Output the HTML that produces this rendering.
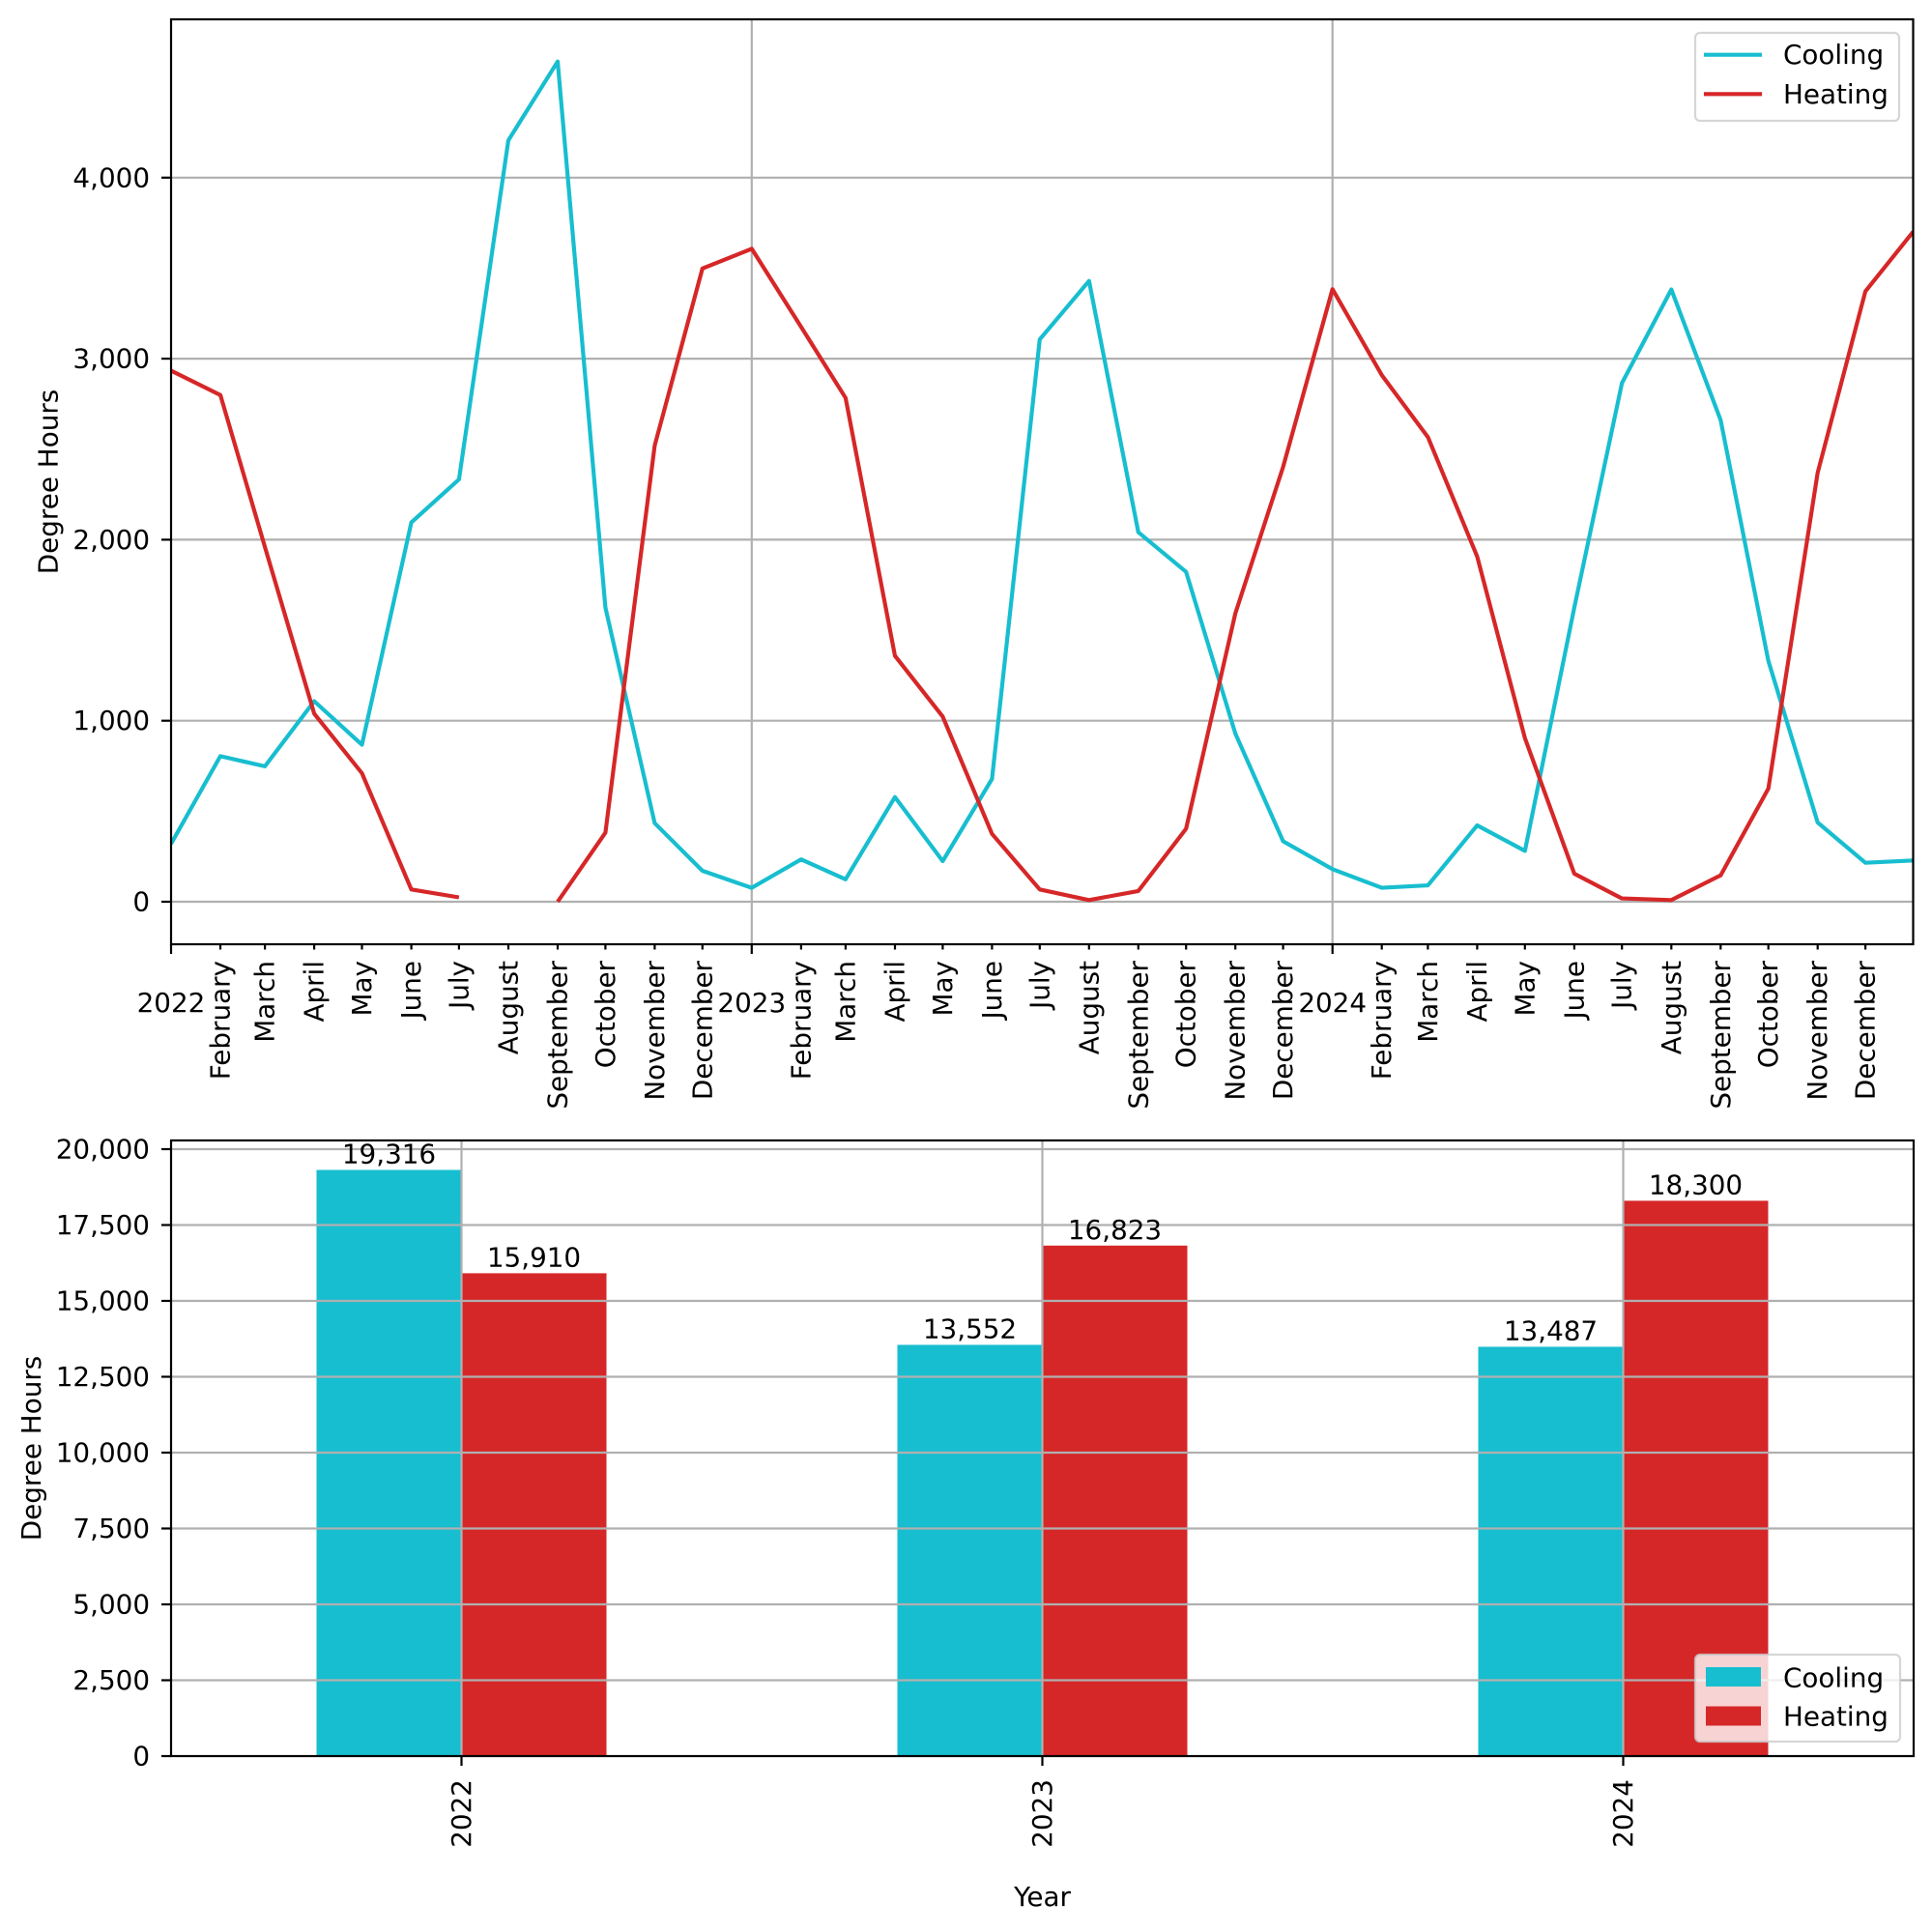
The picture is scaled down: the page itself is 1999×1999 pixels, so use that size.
<!DOCTYPE html>
<html>
<head>
<meta charset="utf-8">
<style>
html,body{margin:0;padding:0;background:#fff;}
svg{display:block;}
text{font-family:"DejaVu Sans","Liberation Sans",sans-serif;font-size:27.8px;fill:#000;}
</style>
</head>
<body>
<svg width="1999" height="1999" viewBox="0 0 1999 1999" xmlns="http://www.w3.org/2000/svg">
<rect x="0" y="0" width="1999" height="1999" fill="#fff"/>
<defs>
<clipPath id="c1"><rect x="177" y="20" width="1802.5" height="957"/></clipPath>
</defs>

<!-- ===== TOP CHART ===== -->
<g stroke="#b0b0b0" stroke-width="2.2" fill="none">
<line x1="177" y1="933" x2="1979.5" y2="933"/>
<line x1="177" y1="745.7" x2="1979.5" y2="745.7"/>
<line x1="177" y1="558.4" x2="1979.5" y2="558.4"/>
<line x1="177" y1="371.1" x2="1979.5" y2="371.1"/>
<line x1="177" y1="183.8" x2="1979.5" y2="183.8"/>
<line x1="777.8" y1="20" x2="777.8" y2="977"/>
<line x1="1378.7" y1="20" x2="1378.7" y2="977"/>
</g>
<g clip-path="url(#c1)" fill="none" stroke-width="4.17" stroke-linejoin="round">
<polyline stroke="#17becf" points="177.0,873.1 228.0,782.4 274.1,792.9 325.1,725.5 374.5,770.6 425.6,540.6 474.9,496.0 526.0,145.2 577.0,63.7 626.4,628.6 677.4,851.7 726.8,901.0 777.8,918.6 828.9,889.2 874.9,909.8 926.0,824.7 975.4,891.0 1026.4,806.0 1075.8,351.2 1126.8,290.7 1177.8,550.7 1227.2,591.7 1278.2,759.0 1327.6,870.4 1378.7,899.3 1429.7,918.6 1477.4,916.1 1528.4,854.0 1577.8,880.4 1628.9,628.6 1678.2,396.4 1729.3,299.5 1780.3,434.6 1829.7,683.9 1880.7,851.0 1930.1,892.7 1979.5,890.3"/>
<polyline stroke="#d62728" points="177.0,383.5 228.0,408.7 274.1,565.9 325.1,738.4 374.5,800.0 425.6,920.3 474.9,928.5"/>
<polyline stroke="#d62728" points="577.0,933.0 626.4,861.6 677.4,461.0 726.8,277.8 777.8,257.4 828.9,338.3 874.9,411.7 926.0,678.6 975.4,741.4 1026.4,862.8 1075.8,920.3 1126.8,931.3 1177.8,921.9 1227.2,857.5 1278.2,634.6 1327.6,483.1 1378.7,299.2 1429.7,388.1 1477.4,452.2 1528.4,575.8 1577.8,763.7 1628.9,904.0 1678.2,929.6 1729.3,931.3 1780.3,905.7 1829.7,815.9 1880.7,489.1 1930.1,301.4 1979.5,239.8"/>
</g>
<rect x="177" y="20" width="1802.5" height="957" fill="none" stroke="#000" stroke-width="2.2"/>
<g stroke="#000" stroke-width="2.2">
<line x1="167" y1="933" x2="177" y2="933"/>
<line x1="167" y1="745.7" x2="177" y2="745.7"/>
<line x1="167" y1="558.4" x2="177" y2="558.4"/>
<line x1="167" y1="371.1" x2="177" y2="371.1"/>
<line x1="167" y1="183.8" x2="177" y2="183.8"/>
</g>
<g text-anchor="end">
<text x="155" y="942.5">0</text>
<text x="155" y="755.2">1,000</text>
<text x="155" y="567.9">2,000</text>
<text x="155" y="380.6">3,000</text>
<text x="155" y="193.3">4,000</text>
</g>
<text transform="translate(50,498.5) rotate(-90)" text-anchor="middle" dominant-baseline="central">Degree Hours</text>
<g stroke="#000" stroke-width="2.2">
<line x1="177" y1="977" x2="177" y2="987"/>
<line x1="777.8" y1="977" x2="777.8" y2="987"/>
<line x1="1378.7" y1="977" x2="1378.7" y2="987"/>
<line x1="228.0" y1="977" x2="228.0" y2="982.5"/>
<line x1="274.1" y1="977" x2="274.1" y2="982.5"/>
<line x1="325.1" y1="977" x2="325.1" y2="982.5"/>
<line x1="374.5" y1="977" x2="374.5" y2="982.5"/>
<line x1="425.6" y1="977" x2="425.6" y2="982.5"/>
<line x1="474.9" y1="977" x2="474.9" y2="982.5"/>
<line x1="526.0" y1="977" x2="526.0" y2="982.5"/>
<line x1="577.0" y1="977" x2="577.0" y2="982.5"/>
<line x1="626.4" y1="977" x2="626.4" y2="982.5"/>
<line x1="677.4" y1="977" x2="677.4" y2="982.5"/>
<line x1="726.8" y1="977" x2="726.8" y2="982.5"/>
<line x1="828.9" y1="977" x2="828.9" y2="982.5"/>
<line x1="874.9" y1="977" x2="874.9" y2="982.5"/>
<line x1="926.0" y1="977" x2="926.0" y2="982.5"/>
<line x1="975.4" y1="977" x2="975.4" y2="982.5"/>
<line x1="1026.4" y1="977" x2="1026.4" y2="982.5"/>
<line x1="1075.8" y1="977" x2="1075.8" y2="982.5"/>
<line x1="1126.8" y1="977" x2="1126.8" y2="982.5"/>
<line x1="1177.8" y1="977" x2="1177.8" y2="982.5"/>
<line x1="1227.2" y1="977" x2="1227.2" y2="982.5"/>
<line x1="1278.2" y1="977" x2="1278.2" y2="982.5"/>
<line x1="1327.6" y1="977" x2="1327.6" y2="982.5"/>
<line x1="1429.7" y1="977" x2="1429.7" y2="982.5"/>
<line x1="1477.4" y1="977" x2="1477.4" y2="982.5"/>
<line x1="1528.4" y1="977" x2="1528.4" y2="982.5"/>
<line x1="1577.8" y1="977" x2="1577.8" y2="982.5"/>
<line x1="1628.9" y1="977" x2="1628.9" y2="982.5"/>
<line x1="1678.2" y1="977" x2="1678.2" y2="982.5"/>
<line x1="1729.3" y1="977" x2="1729.3" y2="982.5"/>
<line x1="1780.3" y1="977" x2="1780.3" y2="982.5"/>
<line x1="1829.7" y1="977" x2="1829.7" y2="982.5"/>
<line x1="1880.7" y1="977" x2="1880.7" y2="982.5"/>
<line x1="1930.1" y1="977" x2="1930.1" y2="982.5"/>
</g>
<g text-anchor="middle">
<text x="177" y="1047">2022</text>
<text x="777.8" y="1047">2023</text>
<text x="1378.7" y="1047">2024</text>
</g>
<g text-anchor="end">
<text transform="translate(237.5,994) rotate(-90)">February</text>
<text transform="translate(283.6,994) rotate(-90)">March</text>
<text transform="translate(334.6,994) rotate(-90)">April</text>
<text transform="translate(384.0,994) rotate(-90)">May</text>
<text transform="translate(435.1,994) rotate(-90)">June</text>
<text transform="translate(484.4,994) rotate(-90)">July</text>
<text transform="translate(535.5,994) rotate(-90)">August</text>
<text transform="translate(586.5,994) rotate(-90)">September</text>
<text transform="translate(635.9,994) rotate(-90)">October</text>
<text transform="translate(686.9,994) rotate(-90)">November</text>
<text transform="translate(736.3,994) rotate(-90)">December</text>
<text transform="translate(838.4,994) rotate(-90)">February</text>
<text transform="translate(884.4,994) rotate(-90)">March</text>
<text transform="translate(935.5,994) rotate(-90)">April</text>
<text transform="translate(984.9,994) rotate(-90)">May</text>
<text transform="translate(1035.9,994) rotate(-90)">June</text>
<text transform="translate(1085.3,994) rotate(-90)">July</text>
<text transform="translate(1136.3,994) rotate(-90)">August</text>
<text transform="translate(1187.3,994) rotate(-90)">September</text>
<text transform="translate(1236.7,994) rotate(-90)">October</text>
<text transform="translate(1287.7,994) rotate(-90)">November</text>
<text transform="translate(1337.1,994) rotate(-90)">December</text>
<text transform="translate(1439.2,994) rotate(-90)">February</text>
<text transform="translate(1486.9,994) rotate(-90)">March</text>
<text transform="translate(1537.9,994) rotate(-90)">April</text>
<text transform="translate(1587.3,994) rotate(-90)">May</text>
<text transform="translate(1638.4,994) rotate(-90)">June</text>
<text transform="translate(1687.7,994) rotate(-90)">July</text>
<text transform="translate(1738.8,994) rotate(-90)">August</text>
<text transform="translate(1789.8,994) rotate(-90)">September</text>
<text transform="translate(1839.2,994) rotate(-90)">October</text>
<text transform="translate(1890.2,994) rotate(-90)">November</text>
<text transform="translate(1939.6,994) rotate(-90)">December</text>
</g>
<rect x="1754" y="34" width="211" height="91" rx="5" ry="5" fill="#fff" fill-opacity="0.8" stroke="#cccccc" stroke-opacity="0.8" stroke-width="2.2"/>
<line x1="1765" y1="56.7" x2="1821" y2="56.7" stroke="#17becf" stroke-width="4.17" stroke-linecap="square"/>
<line x1="1765" y1="97.3" x2="1821" y2="97.3" stroke="#d62728" stroke-width="4.17" stroke-linecap="square"/>
<text x="1845" y="66">Cooling</text>
<text x="1845" y="107">Heating</text>

<!-- ===== BOTTOM CHART ===== -->
<g>
<rect x="327.5" y="1210.5" width="150" height="606.5" fill="#17becf"/>
<rect x="477.5" y="1317.4" width="150" height="499.6" fill="#d62728"/>
<rect x="928.5" y="1391.5" width="150" height="425.5" fill="#17becf"/>
<rect x="1078.5" y="1288.8" width="150" height="528.2" fill="#d62728"/>
<rect x="1529.5" y="1393.5" width="150" height="423.5" fill="#17becf"/>
<rect x="1679.5" y="1242.4" width="150" height="574.6" fill="#d62728"/>
</g>
<g stroke="#b0b0b0" stroke-width="2.2" fill="none">
<line x1="177" y1="1738.5" x2="1980" y2="1738.5"/>
<line x1="177" y1="1660" x2="1980" y2="1660"/>
<line x1="177" y1="1581.5" x2="1980" y2="1581.5"/>
<line x1="177" y1="1503" x2="1980" y2="1503"/>
<line x1="177" y1="1424.5" x2="1980" y2="1424.5"/>
<line x1="177" y1="1346" x2="1980" y2="1346"/>
<line x1="177" y1="1267.5" x2="1980" y2="1267.5"/>
<line x1="177" y1="1189" x2="1980" y2="1189"/>
<line x1="477.5" y1="1180" x2="477.5" y2="1817"/>
<line x1="1078.5" y1="1180" x2="1078.5" y2="1817"/>
<line x1="1679.5" y1="1180" x2="1679.5" y2="1817"/>
</g>
<rect x="177" y="1180" width="1803" height="637" fill="none" stroke="#000" stroke-width="2.2"/>
<g text-anchor="middle">
<text x="402.5" y="1203.5">19,316</text>
<text x="552.5" y="1310.4">15,910</text>
<text x="1003.5" y="1384.5">13,552</text>
<text x="1153.5" y="1281.8">16,823</text>
<text x="1604.5" y="1386.5">13,487</text>
<text x="1754.5" y="1235.4">18,300</text>
</g>
<g stroke="#000" stroke-width="2.2">
<line x1="167" y1="1817" x2="177" y2="1817"/>
<line x1="167" y1="1738.5" x2="177" y2="1738.5"/>
<line x1="167" y1="1660" x2="177" y2="1660"/>
<line x1="167" y1="1581.5" x2="177" y2="1581.5"/>
<line x1="167" y1="1503" x2="177" y2="1503"/>
<line x1="167" y1="1424.5" x2="177" y2="1424.5"/>
<line x1="167" y1="1346" x2="177" y2="1346"/>
<line x1="167" y1="1267.5" x2="177" y2="1267.5"/>
<line x1="167" y1="1189" x2="177" y2="1189"/>
<line x1="477.5" y1="1817" x2="477.5" y2="1827"/>
<line x1="1078.5" y1="1817" x2="1078.5" y2="1827"/>
<line x1="1679.5" y1="1817" x2="1679.5" y2="1827"/>
</g>
<g text-anchor="end">
<text x="155" y="1826.5">0</text>
<text x="155" y="1748">2,500</text>
<text x="155" y="1669.5">5,000</text>
<text x="155" y="1591">7,500</text>
<text x="155" y="1512.5">10,000</text>
<text x="155" y="1434">12,500</text>
<text x="155" y="1355.5">15,000</text>
<text x="155" y="1277">17,500</text>
<text x="155" y="1198.5">20,000</text>
</g>
<text transform="translate(32.5,1498.5) rotate(-90)" text-anchor="middle" dominant-baseline="central">Degree Hours</text>
<g text-anchor="end">
<text transform="translate(487,1841) rotate(-90)">2022</text>
<text transform="translate(1088,1841) rotate(-90)">2023</text>
<text transform="translate(1689,1841) rotate(-90)">2024</text>
</g>
<text x="1078.5" y="1972" text-anchor="middle">Year</text>
<rect x="1754" y="1712" width="212" height="90" rx="5" ry="5" fill="#fff" fill-opacity="0.8" stroke="#cccccc" stroke-opacity="0.8" stroke-width="2.2"/>
<rect x="1765" y="1725" width="57" height="20" fill="#17becf"/>
<rect x="1765" y="1765.5" width="57" height="20" fill="#d62728"/>
<text x="1845" y="1745.5">Cooling</text>
<text x="1845" y="1785.5">Heating</text>
</svg>
</body>
</html>
